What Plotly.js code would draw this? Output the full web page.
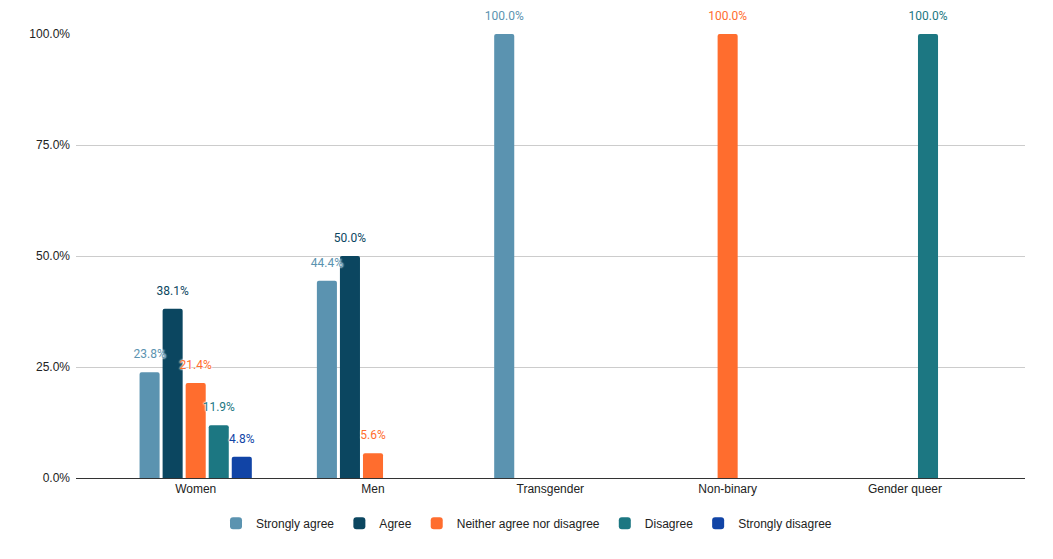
<!DOCTYPE html>
<html>
<head>
<meta charset="utf-8">
<script src="https://cdn.plot.ly/plotly-3.0.1.min.js"></script>
<style>html,body{margin:0;padding:0;background:#fff;}#chart{width:1053px;height:559px;}</style>
</head>
<body>
<div id="chart"></div>
<script>
const categories = ["Women", "Men", "Transgender", "Non-binary", "Gender queer"];
const seriesNames = ["Strongly agree", "Agree", "Neither agree nor disagree", "Disagree", "Strongly disagree"];
const stronglyAgree = [23.8, 44.4, 100.0, null, null];
const agree = [38.1, 50.0, null, null, null];
const neither = [21.4, 5.6, null, 100.0, null];
const disagree = [11.9, null, null, null, 100.0];
const stronglyDisagree = [4.8, null, null, null, null];
const tickValues = [0, 25, 50, 75, 100];
const tickLabels = ["0.0%", "25.0%", "50.0%", "75.0%", "100.0%"];
const colors = ["#5b93b0", "#0b4660", "#ff6d2e", "#1c7782", "#1144a6"];

const seriesValues = [stronglyAgree, agree, neither, disagree, stronglyDisagree];
const barTraces = seriesValues.map((vals, i) => ({
  type: "bar",
  name: seriesNames[i],
  x: categories,
  y: vals,
  marker: {color: colors[i]},
  offsetgroup: "g" + i,
  legendgroup: "g" + i,
  hoverinfo: "x+y+name"
}));
const labelTraces = seriesValues.map((vals, i) => ({
  type: "scatter",
  mode: "markers+text",
  name: seriesNames[i],
  x: categories,
  y: vals,
  offsetgroup: "g" + i,
  legendgroup: "g" + i,
  showlegend: false,
  marker: {size: 16, opacity: 0, color: "rgba(0,0,0,0)"},
  text: vals.map(v => v == null ? "" : v.toFixed(1) + "%"),
  textposition: "top center",
  cliponaxis: false,
  textfont: {family: "Roboto, sans-serif", size: 12, color: colors[i], shadow: "0 0 2px #fff, 0 0 2px #fff, 0 0 2px #fff"},
  hoverinfo: "skip"
}));

const layout = {
  width: 1053, height: 559,
  margin: {l: 76, r: 28, t: 34, b: 81, autoexpand: false},
  paper_bgcolor: "#fff", plot_bgcolor: "#fff",
  barmode: "group",
  scattermode: "group",
  bargap: 0.35,
  bargroupgap: 0.13,
  scattergap: 0.35,
  barcornerradius: 2,
  font: {family: "Liberation Sans, Arial, sans-serif", size: 12, color: "#222"},
  xaxis: {
    type: "category",
    range: [-0.675, 4.677],
    showgrid: false,
    showline: true, linecolor: "#333", linewidth: 1,
    ticks: "", tickfont: {size: 12, color: "#222"},
    fixedrange: true
  },
  yaxis: {
    range: [0, 100],
    tickvals: tickValues, ticktext: tickLabels,
    showgrid: true, gridcolor: "#cccccc", gridwidth: 1,
    zeroline: false,
    ticks: "", ticklen: 0,
    ticklabelstandoff: 5,
    tickfont: {size: 12, color: "#222"},
    fixedrange: true
  },
  showlegend: true,
  legend: {
    orientation: "h", x: 0.5, xanchor: "center", xref: "container",
    y: 0.064, yanchor: "middle", yref: "container",
    font: {size: 12, color: "#222"}, itemwidth: 30, traceorder: "normal"
  }
};

Plotly.newPlot("chart", barTraces.concat(labelTraces), layout, {displayModeBar: false, staticPlot: true});
</script>
</body>
</html>
